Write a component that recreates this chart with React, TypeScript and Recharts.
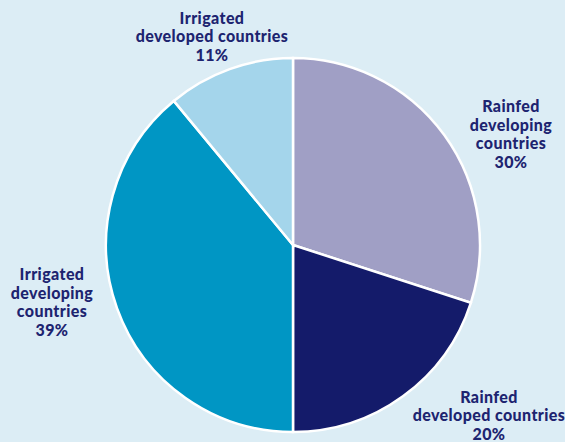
import React from 'react';
import { PieChart, Pie, Cell } from 'recharts';

const categories = [
  'Rainfed developing countries',
  'Rainfed developed countries',
  'Irrigated developing countries',
  'Irrigated developed countries',
];
const shares = [30, 20, 39, 11];
const labelLines = [
  ['Rainfed', 'developing', 'countries', '30%'],
  ['Rainfed', 'developed countries', '20%'],
  ['Irrigated', 'developing', 'countries', '39%'],
  ['Irrigated', 'developed countries', '11%'],
];
const colors = ['#a09fc5', '#141b6a', '#0096c4', '#a4d5eb'];

const data = categories.map((name, i) => ({ name, value: shares[i] }));

// label block centres, relative to the pie centre
const labelOffsets = [
  { dx: 218, dy: -112 },
  { dx: 196, dy: 169 },
  { dx: -241, dy: 56 },
  { dx: -81, dy: -210 },
];

const LINE_H = 18.5;

const renderLabel = (props: any) => {
  const { cx, cy, index } = props;
  const lines = labelLines[index];
  const off = labelOffsets[index];
  const top = cy + off.dy - ((lines.length - 1) * LINE_H) / 2;
  return (
    <text
      x={cx + off.dx}
      y={top}
      textAnchor="middle"
      fill="#1d2470"
      fontFamily="Lato, 'Open Sans', sans-serif"
      fontWeight={900}
      fontSize={16}
      letterSpacing={0.4}
      dominantBaseline="central"
    >
      {lines.map((l, i) => (
        <tspan key={i} x={cx + off.dx} y={top + i * LINE_H}>
          {l}
        </tspan>
      ))}
    </text>
  );
};

export default function App() {
  return (
    <div style={{ position: 'fixed', left: 0, top: 0, width: 565, height: 442, background: '#dcedf5' }}>
      <PieChart width={565} height={442} margin={{ top: 0, right: 0, bottom: 0, left: 0 }}>
        <Pie
          data={data}
          dataKey="value"
          cx={293}
          cy={245}
          outerRadius={187}
          startAngle={90}
          endAngle={-270}
          stroke="#ffffff"
          strokeWidth={2.5}
          label={renderLabel}
          labelLine={false}
          isAnimationActive={false}
        >
          {data.map((d, i) => (
            <Cell key={d.name} fill={colors[i]} />
          ))}
        </Pie>
      </PieChart>
    </div>
  );
}
